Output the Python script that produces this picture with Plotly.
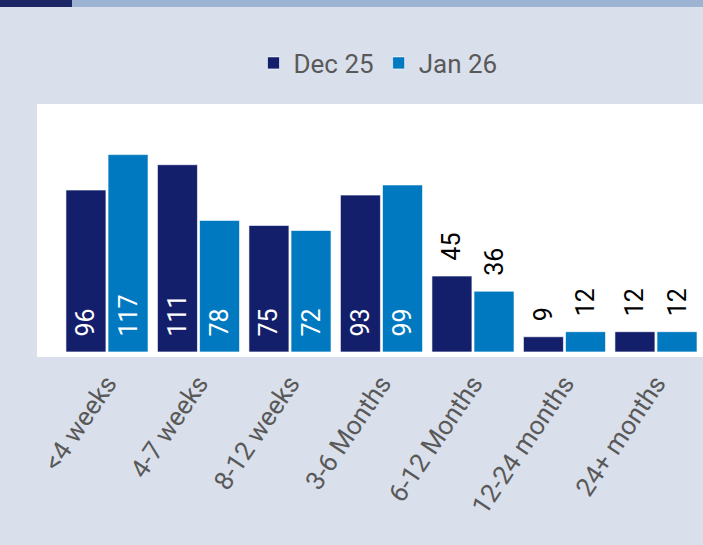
import plotly.graph_objects as go

categories = ["<4 weeks", "4-7 weeks", "8-12 weeks", "3-6 Months", "6-12 Months", "12-24 months", "24+ months"]
dec25 = [96, 111, 75, 93, 45, 9, 12]
jan26 = [117, 78, 72, 99, 36, 12, 12]
series_names = ["Dec 25", "Jan 26"]

DEC_COLOR = "#141f6b"
JAN_COLOR = "#0079c1"
BG = "#dae0eb"
FONT = "Roboto"

W, H = 703, 545
ML, MR, MT, MB = 37, 0, 104, 188
PW = W - ML - MR
PH = H - MT - MB


def positions(vals):
    return ["inside" if v >= 60 else "outside" for v in vals]


def colors(vals):
    return ["white" if v >= 60 else "black" for v in vals]


fig = go.Figure()
for name, vals, col in [(series_names[0], dec25, DEC_COLOR), (series_names[1], jan26, JAN_COLOR)]:
    fig.add_trace(go.Bar(
        name=name,
        x=categories,
        y=vals,
        marker=dict(color=col, line=dict(color="rgba(255,255,255,0.6)", width=1)),
        text=[str(v) for v in vals],
        texttemplate="\u00a0\u00a0%{text}",
        textposition=positions(vals),
        textangle=-90,
        insidetextanchor="start",
        textfont=dict(family=FONT, size=25, color=colors(vals)),
        constraintext="none",
        cliponaxis=False,
        hoverinfo="skip",
    ))

fig.update_layout(
    width=W, height=H,
    margin=dict(l=ML, r=MR, t=MT, b=MB, pad=0),
    paper_bgcolor=BG,
    plot_bgcolor="white",
    barmode="group",
    bargap=0.08,
    bargroupgap=0.05,
    font=dict(family=FONT, color="#595959"),
    showlegend=True,
    legend=dict(
        orientation="h",
        x=(378 - ML) / PW, xanchor="center",
        y=1 + (104 - 63) / PH, yanchor="middle",
        font=dict(family=FONT, size=26, color="#595959"),
        bgcolor="rgba(0,0,0,0)",
        itemwidth=30,
        itemclick=False,
    ),
    xaxis=dict(
        range=[-0.765, 6.514],
        tickangle=-56,
        tickfont=dict(family=FONT, size=26, color="#595959"),
        ticklabelstandoff=5,
        showgrid=False, zeroline=False, showline=False,
        ticks="", ticklen=0,
    ),
    yaxis=dict(
        range=[-3, 147],
        visible=False,
        showgrid=False, zeroline=False,
    ),
    shapes=[
        dict(type="rect", xref="paper", yref="paper",
             x0=-ML / PW, x1=(72 - ML) / PW,
             y0=1 + (MT - 7) / PH, y1=1 + MT / PH,
             fillcolor="#1e2766", line=dict(width=0), layer="above"),
        dict(type="rect", xref="paper", yref="paper",
             x0=(72 - ML) / PW, x1=1.0,
             y0=1 + (MT - 7) / PH, y1=1 + MT / PH,
             fillcolor="#9cb4d2", line=dict(width=0), layer="above"),
    ],
)

fig.write_html(
    "out.html",
    config={"displayModeBar": False},
    post_script="document.body.style.margin='0';document.body.style.padding='0';document.body.style.overflow='hidden';",
)
